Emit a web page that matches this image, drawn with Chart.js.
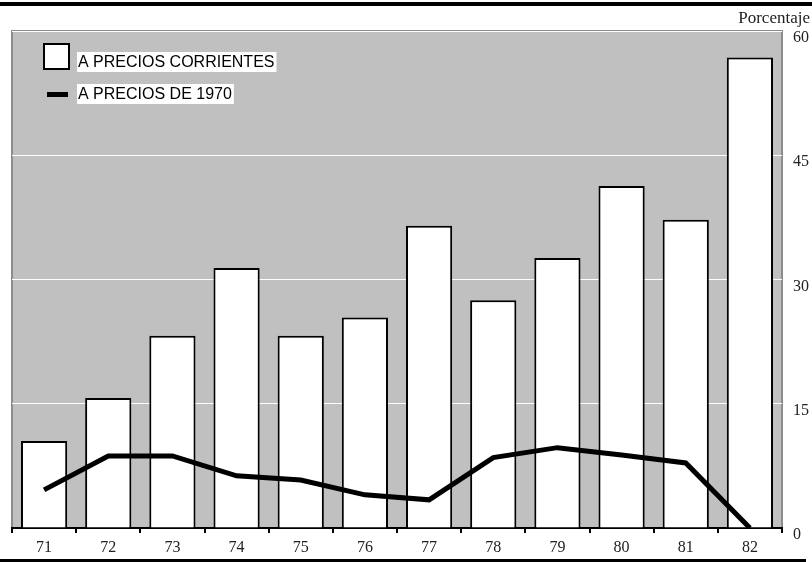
<!DOCTYPE html>
<html>
<head>
<meta charset="utf-8">
<script src="https://cdn.jsdelivr.net/npm/chart.js@4.4.0/dist/chart.umd.min.js"></script>
<style>
  html, body { margin: 0; padding: 0; background: #fff; }
  #wrap { width: 812px; height: 562px; }
</style>
</head>
<body>
<div id="wrap"><canvas id="chart" width="812" height="562"></canvas></div>
<script>
// Years (1971-1982)
const years = ['71', '72', '73', '74', '75', '76', '77', '78', '79', '80', '81', '82'];
// Porcentaje, a precios corrientes (bars)
const corrientes = [10.5, 15.7, 23.2, 31.4, 23.2, 25.4, 36.5, 27.5, 32.6, 41.3, 37.2, 56.8];
// Porcentaje, a precios de 1970 (line)
const constantes = [4.6, 8.7, 8.7, 6.3, 5.8, 4.0, 3.4, 8.5, 9.7, 8.8, 7.85, 0];
const yTicks = [0, 15, 30, 45, 60];

const SERIF = '"Liberation Serif", "Times New Roman", serif';
const SANS = '"Liberation Sans", Arial, sans-serif';

// gray plot background + frame
const plotBg = {
  id: 'plotBg',
  beforeDraw(chart) {
    const { ctx, chartArea: a } = chart;
    ctx.save();
    ctx.fillStyle = '#c0c0c0';
    ctx.fillRect(a.left, a.top, a.right - a.left, a.bottom - a.top);
    ctx.strokeStyle = '#8c8c8c';
    ctx.lineWidth = 2;
    ctx.beginPath();
    ctx.moveTo(a.left, a.bottom);
    ctx.lineTo(a.left, a.top);
    ctx.lineTo(a.right, a.top);
    ctx.lineTo(a.right, a.bottom);
    ctx.stroke();
    ctx.restore();
  }
};

// rules, unit label and legend
const decor = {
  id: 'decor',
  afterDraw(chart) {
    const { ctx } = chart;
    ctx.save();
    ctx.fillStyle = '#000';
    ctx.fillRect(0, 2, 812, 4);
    ctx.fillRect(0, 559, 806, 3);

    ctx.font = '17px ' + SERIF;
    ctx.fillStyle = '#222';
    ctx.textAlign = 'right';
    ctx.textBaseline = 'alphabetic';
    ctx.fillText('Porcentaje', 810, 23);

    // legend
    const ds = chart.data.datasets;
    ctx.font = '16px ' + SANS;
    ctx.textAlign = 'left';
    ctx.textBaseline = 'middle';
    const rows = [
      { y: 62, label: ds[0].label },
      { y: 94, label: ds[1].label }
    ];
    rows.forEach(r => {
      const w = ctx.measureText(r.label).width;
      ctx.fillStyle = '#fff';
      ctx.fillRect(77, r.y - 10, w + 3, 20);
      ctx.fillStyle = '#000';
      ctx.fillText(r.label, 78, r.y + 1);
    });
    ctx.fillStyle = '#fff';
    ctx.fillRect(44, 44, 25, 25);
    ctx.strokeStyle = '#000';
    ctx.lineWidth = 2;
    ctx.strokeRect(44, 44, 25, 25);
    ctx.fillStyle = '#000';
    ctx.fillRect(47, 92, 21, 5);
    ctx.restore();
  }
};

new Chart(document.getElementById('chart'), {
  data: {
    labels: years,
    datasets: [
      {
        type: 'bar',
        label: 'A PRECIOS CORRIENTES',
        data: corrientes,
        backgroundColor: '#fff',
        borderColor: '#000',
        borderWidth: 2,
        categoryPercentage: 1,
        barPercentage: 0.72,
        order: 2
      },
      {
        type: 'line',
        label: 'A PRECIOS DE 1970',
        data: constantes,
        borderColor: '#000',
        borderWidth: 5,
        pointRadius: 0,
        tension: 0,
        fill: false,
        order: 1
      }
    ]
  },
  options: {
    responsive: false,
    animation: false,
    devicePixelRatio: 1,
    layout: { padding: { left: 12, top: 31, right: 0, bottom: 0 } },
    plugins: { legend: { display: false }, tooltip: { enabled: false } },
    scales: {
      x: {
        offset: true,
        grid: { display: true, offset: true, drawOnChartArea: false, color: '#000', tickLength: 5, lineWidth: 2 },
        border: { display: true, color: '#000', width: 2 },
        ticks: { color: '#222', font: { family: SERIF, size: 16 }, padding: 5, maxRotation: 0 },
        afterFit(s) { s.height = 34; }
      },
      y: {
        position: 'right',
        min: 0,
        max: 60,
        afterBuildTicks(s) { s.ticks = yTicks.map(v => ({ value: v })); },
        grid: { color: '#fff', lineWidth: 1, drawTicks: false },
        border: { display: false },
        ticks: { color: '#222', font: { family: SERIF, size: 16 }, padding: 11, labelOffset: 7 },
        afterFit(s) { s.width = 30; }
      }
    }
  },
  plugins: [plotBg, decor]
});
</script>
</body>
</html>
